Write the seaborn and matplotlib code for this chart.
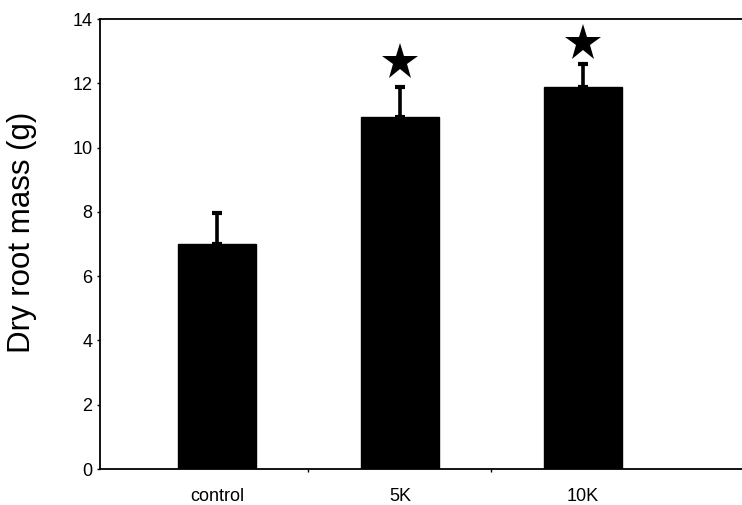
import numpy as np
import matplotlib
matplotlib.use("Agg")
import matplotlib.pyplot as plt
import seaborn as sns

categories = ["control", "5K", "10K"]
values = [7.0, 10.95, 11.87]
errors = [0.95, 0.95, 0.72]
star_y = [None, 12.67, 13.25]
y_ticks = [0, 2, 4, 6, 8, 10, 12, 14]

sns.set_style("ticks")
plt.rcParams["font.family"] = ["Liberation Sans", "DejaVu Sans"]
plt.rcParams["text.color"] = "black"
plt.rcParams["xtick.color"] = "black"
plt.rcParams["ytick.color"] = "black"
plt.rcParams["axes.labelcolor"] = "black"

W, H = 742, 505
fig = plt.figure(figsize=(W / 100, H / 100), dpi=100)
ax = fig.add_axes([100 / W, (H - 469) / H, 1 - 100 / W, 450 / H])

sns.barplot(x=categories, y=values, color="black", saturation=1, width=0.426,
            errorbar=None, edgecolor="black", ax=ax)

xpos = np.arange(len(categories))
ax.errorbar(xpos, values, yerr=[np.zeros(len(values)), errors], fmt="none",
            ecolor="black", elinewidth=2.6, capsize=3.8, capthick=3.0, zorder=3)

for xi, sy in zip(xpos, star_y):
    if sy is not None:
        ax.plot(xi, sy, marker="*", markersize=28, color="black",
                markeredgewidth=0, linestyle="none", zorder=4)

ax.set_ylim(0, 14)
ax.set_yticks(y_ticks)
ax.set_yticklabels([str(t) for t in y_ticks], fontsize=13)
ax.set_xlim(-0.639, 2.869)
ax.set_xticks(xpos)
ax.set_xticklabels(categories, fontsize=13)
ax.set_xticks([0.5, 1.5], minor=True)
ax.tick_params(axis="x", which="major", length=0, pad=14)
ax.tick_params(axis="x", which="minor", length=2.5, width=1, direction="out")
ax.tick_params(axis="y", length=2.5, width=1, direction="out", pad=3)

ax.set_ylabel("Dry root mass (g)", fontsize=22.5)
ax.yaxis.set_label_coords((37 - 100) / (W - 100), 0.527)

for side in ["left", "bottom", "top"]:
    ax.spines[side].set_visible(True)
    ax.spines[side].set_linewidth(1.3)
    ax.spines[side].set_color("black")
ax.spines["right"].set_visible(False)
ax.set_xlabel("")

fig.savefig("out.png", dpi=100)
